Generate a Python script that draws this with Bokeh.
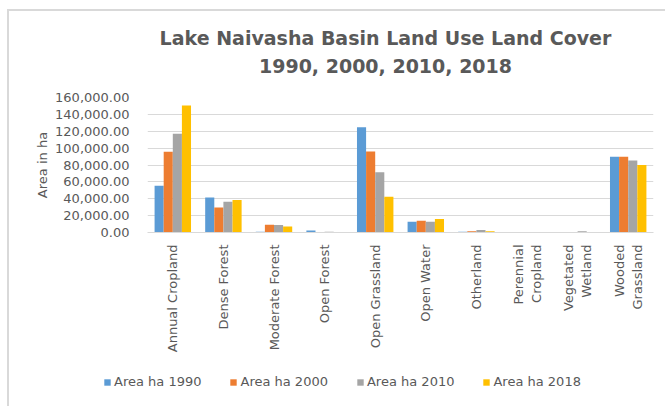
import math
from bokeh.plotting import figure
from bokeh.layouts import column, row
from bokeh.models import (ColumnDataSource, FactorRange, Range1d, NumeralTickFormatter,
                          SingleIntervalTicker, Legend, LegendItem, Label)
from bokeh.transform import dodge
from bokeh.embed import file_html
from bokeh.resources import INLINE

categories = ["Annual Cropland", "Dense Forest", "Moderate Forest", "Open Forest",
              "Open Grassland", "Open Water", "Otherland", "Perennial\nCropland",
              "Vegetated\nWetland", "Wooded\nGrassland"]
area_1990 = [55500, 41600, 1000, 2500, 124700, 12700, 1000, 200, 100, 89900]
area_2000 = [95800, 29700, 9100, 500, 95900, 13900, 1500, 200, 500, 89900]
area_2010 = [116900, 36500, 9000, 1000, 71300, 12700, 3000, 200, 1500, 85200]
area_2018 = [150500, 38500, 7100, 300, 42400, 15900, 1500, 200, 300, 80000]
series_names = ["Area ha 1990", "Area ha 2000", "Area ha 2010", "Area ha 2018"]
colors = ["#5B9BD5", "#ED7D31", "#A5A5A5", "#FFC000"]
title_lines = ["Lake Naivasha Basin Land Use Land Cover", "1990, 2000, 2010, 2018"]

src = ColumnDataSource(dict(cat=categories, a1990=area_1990, a2000=area_2000,
                            a2010=area_2010, a2018=area_2018))

TXT = "#595959"
FONT = "DejaVu Sans"
W = 656

# ---- title strip ----
TH = 78
pt = figure(width=W, height=TH, x_range=Range1d(0, W), y_range=Range1d(0, TH),
            x_axis_type=None, y_axis_type=None, output_backend="svg",
            toolbar_location=None, min_border=0)
pt.outline_line_color = None
pt.grid.visible = False
for txt, yy in zip(title_lines, [52, 24]):
    pt.add_layout(Label(x=376, y=yy, text=txt, text_align="center",
                        text_baseline="alphabetic", text_font=FONT,
                        text_font_size="19px", text_font_style="bold", text_color=TXT))

# ---- main chart ----
p = figure(width=W, height=266, x_range=FactorRange(*categories),
           y_range=Range1d(0, 160000), output_backend="svg", toolbar_location=None,
           min_border_left=138, min_border_right=12, min_border_top=8,
           min_border_bottom=123)
p.x_range.range_padding = 0
p.outline_line_color = None

cols = ["a1990", "a2000", "a2010", "a2018"]
offsets = [-0.27, -0.09, 0.09, 0.27]
renderers = []
for c, off, col in zip(cols, offsets, colors):
    r = p.vbar(x=dodge("cat", off, range=p.x_range), top=c, width=0.18, source=src,
               fill_color=col, line_color=None)
    renderers.append(r)

p.yaxis.ticker = SingleIntervalTicker(interval=20000)
p.yaxis.formatter = NumeralTickFormatter(format="0,0.00")
p.yaxis.axis_line_color = None
p.yaxis.major_tick_line_color = None
p.yaxis.minor_tick_line_color = None
p.yaxis.major_label_text_font = FONT
p.yaxis.major_label_text_font_size = "13px"
p.yaxis.major_label_text_color = TXT
p.yaxis.major_label_standoff = 12
p.yaxis.axis_label = "Area in ha"
p.yaxis.axis_label_text_font = FONT
p.yaxis.axis_label_text_font_size = "13px"
p.yaxis.axis_label_text_font_style = "normal"
p.yaxis.axis_label_text_color = TXT
p.yaxis.axis_label_standoff = 2

p.ygrid.grid_line_color = "#d9d9d9"
p.ygrid.ticker = SingleIntervalTicker(interval=20000)
p.xgrid.grid_line_color = None

p.xaxis.axis_line_color = "#d9d9d9"
p.xaxis.major_tick_line_color = None
p.xaxis.minor_tick_line_color = None
p.xaxis.major_label_orientation = math.pi / 2
p.xaxis.major_label_text_font = FONT
p.xaxis.major_label_text_font_size = "13px"
p.xaxis.major_label_text_color = TXT
p.xaxis.major_label_standoff = 6

# ---- legend strip ----
LH = 51
pl = figure(width=W, height=LH, x_range=Range1d(0, 1), y_range=Range1d(0, 1),
            x_axis_type=None, y_axis_type=None, output_backend="svg",
            toolbar_location=None, min_border=0)
pl.outline_line_color = None
pl.grid.visible = False
leg_r = []
for col in colors:
    leg_r.append(pl.vbar(x=[5], top=[5], bottom=[4], width=0.1,
                         fill_color=col, line_color=None))
legend = Legend(items=[LegendItem(label=n, renderers=[r]) for n, r in zip(series_names, leg_r)],
                orientation="horizontal", location=(94, 17),
                glyph_width=8, glyph_height=8, label_standoff=3, spacing=28,
                label_text_font=FONT, label_text_font_size="13px", label_text_color=TXT,
                border_line_color=None, background_fill_alpha=0, padding=4, margin=0)
pl.add_layout(legend, "center")

layout = column(row(pt), p, row(pl), spacing=0,
                styles={"margin-left": "7px", "margin-top": "9px",
                        "border-left": "2px solid #d9d9d9",
                        "border-top": "2px solid #d9d9d9"})

open("out.html", "w").write(file_html(layout, INLINE))
